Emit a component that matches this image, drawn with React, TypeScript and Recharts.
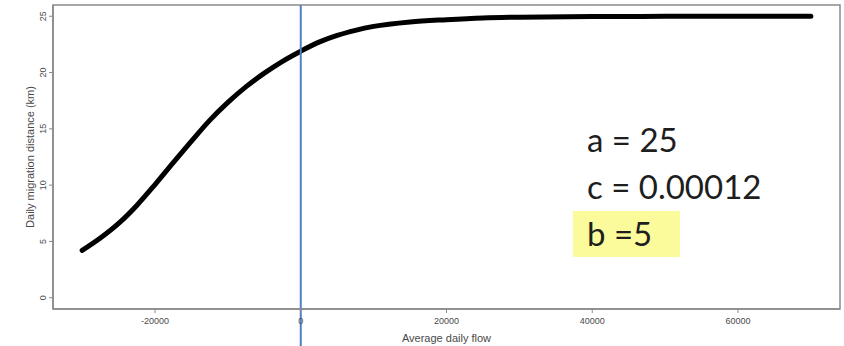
import { Line, LineChart, ReferenceArea, ReferenceLine, XAxis, YAxis } from "recharts";

// values
const flow = [
  -30000, -27500, -25000, -22500, -20000, -17500, -15000, -12500, -10000, -7500,
  -5000, -2500, 0, 2500, 5000, 7500, 10000, 15000, 20000, 25000, 30000, 40000,
  50000, 60000, 70000,
];
const distance = [
  4.2, 5.3, 6.6, 8.2, 10.05, 12.0, 13.9, 15.75, 17.35, 18.75,
  19.95, 21.0, 21.9, 22.7, 23.3, 23.75, 24.1, 24.5, 24.7, 24.85, 24.92, 24.97,
  24.99, 25.0, 25.0,
];
const xTicks = [-20000, 0, 20000, 40000, 60000];
const yTicks = [0, 5, 10, 15, 20, 25];
const xDomain = [-34000, 74000];
const yDomain = [-1, 26];
const params = ["a = 25", "c = 0.00012", "b =5"];

const data = flow.map((x, i) => ({ x, y: distance[i] }));

const AXIS = "#8a8a8a";
const TEXT = "#4a4a4a";
const BLUE = "#4f7fc4";

function YTick(props: any) {
  const { y, payload } = props;
  const x = 46;
  return (
    <text
      x={x}
      y={y}
      transform={`rotate(-90 ${x} ${y})`}
      textAnchor="middle"
      fontSize={9}
      fill={TEXT}
      fontFamily="Liberation Sans, Arial, sans-serif"
    >
      {payload.value}
    </text>
  );
}

// vertical marker at zero flow, carried on below the axis like in the slide
function ZeroLine(p: any) {
  const top = Math.min(p.y1, p.y2);
  const bottom = Math.max(p.y1, p.y2);
  return <line x1={p.x1} y1={top} x2={p.x2} y2={bottom + 40} stroke={BLUE} strokeWidth={2} />;
}

export default function App() {
  return (
    <div style={{ position: "absolute", left: 0, top: 0, width: 844, height: 346, background: "#fff" }}>
      <LineChart
        width={844}
        height={346}
        data={data}
        margin={{ top: 5, right: 4, left: 0, bottom: 0 }}
        style={{ fontFamily: "Liberation Sans, Arial, sans-serif" }}
      >
        <XAxis
          dataKey="x"
          type="number"
          domain={xDomain}
          ticks={xTicks}
          allowDataOverflow
          height={37}
          tickSize={4}
          tickMargin={5}
          tick={{ fontSize: 9, fill: TEXT }}
          axisLine={{ stroke: AXIS, strokeWidth: 1.5 }}
          tickLine={{ stroke: AXIS }}
          label={{ value: "Average daily flow", position: "insideBottom", offset: 4, fontSize: 11, fill: TEXT }}
        />
        <YAxis
          type="number"
          domain={yDomain}
          ticks={yTicks}
          allowDataOverflow
          width={53}
          tickSize={4}
          tick={<YTick />}
          axisLine={{ stroke: AXIS, strokeWidth: 1.5 }}
          tickLine={{ stroke: AXIS }}
          label={{ value: "Daily migration distance (km)", angle: -90, position: "center", dx: 4, fontSize: 11, fill: TEXT }}
        />
        <ReferenceArea
          x1={xDomain[0]}
          x2={xDomain[1]}
          y1={yDomain[0]}
          y2={yDomain[1]}
          fill="none"
          stroke={AXIS}
          strokeWidth={1.5}
          fillOpacity={0}
        />
        <Line
          dataKey="y"
          type="monotone"
          stroke="#000"
          strokeWidth={5}
          strokeLinecap="round"
          dot={false}
          isAnimationActive={false}
        />
        <ReferenceLine x={0} stroke={BLUE} strokeWidth={2} shape={ZeroLine} />
      </LineChart>
      <div
        style={{
          position: "absolute",
          left: 573,
          top: 211,
          width: 107,
          height: 46,
          background: "#fbfb9c",
        }}
      />
      {params.map((t, i) => (
        <div
          key={t}
          style={{
            position: "absolute",
            left: 587,
            top: 119 + i * 47,
            fontFamily: "Lato, 'Open Sans', sans-serif",
            fontSize: 33,
            lineHeight: "40px",
            color: "#1e1e1e",
            whiteSpace: "pre",
          }}
        >
          {t}
        </div>
      ))}
    </div>
  );
}
